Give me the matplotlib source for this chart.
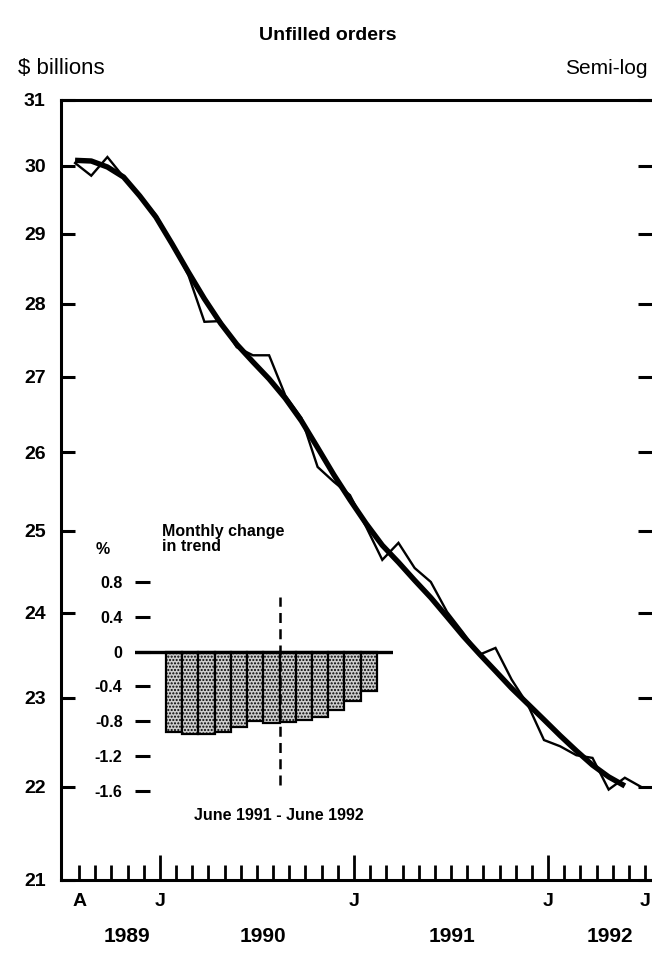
import numpy as np
import matplotlib.pyplot as plt
import matplotlib.transforms as mtransforms
from matplotlib.ticker import NullLocator

plt.rcParams['font.family'] = ['Liberation Sans', 'DejaVu Sans']
plt.rcParams['hatch.linewidth'] = 1.0

# -------------------------------------------------------
#   data (monthly, Aug 1989 - Jul 1992)
# -------------------------------------------------------
unfilled_orders = [30.04, 29.85, 30.13, 29.83, 29.55, 29.27, 28.86, 28.41, 27.75, 27.76,
                   27.40, 27.29, 27.29, 26.75, 26.45, 25.81, 25.62, 25.45, 25.05, 24.64,
                   24.85, 24.54, 24.37, 24.01, 23.76, 23.50, 23.58, 23.21, 22.92, 22.52,
                   22.45, 22.35, 22.32, 21.97, 22.10, 22.00]

# trend ends one month earlier (Jun 1992)
trend = [30.08, 30.07, 29.98, 29.83, 29.55, 29.24, 28.85, 28.45, 28.07, 27.73,
         27.44, 27.20, 26.97, 26.71, 26.41, 26.06, 25.71, 25.39, 25.09, 24.82,
         24.61, 24.39, 24.18, 23.95, 23.72, 23.51, 23.31, 23.11, 22.93, 22.75,
         22.57, 22.40, 22.24, 22.11, 22.01]

# monthly % change in trend, June 1991 - June 1992
trend_change = [-0.92, -0.95, -0.95, -0.92, -0.86, -0.80, -0.82, -0.81,
                -0.79, -0.75, -0.67, -0.57, -0.45]

y_ticks = [21, 22, 23, 24, 25, 26, 27, 28, 29, 30, 31]
month_labels = {0: 'A', 5: 'J', 17: 'J', 29: 'J', 35: 'J'}
january_idx = [5, 17, 29]
years = ['1989', '1990', '1991', '1992']
year_label_pos = [3.2, 11.6, 23.3, 33.1]

inset_ticks = [0.8, 0.4, 0, -0.4, -0.8, -1.2, -1.6]
inset_tick_labels = ['0.8', '0.4', '0', '-0.4', '-0.8', '-1.2', '-1.6']

# ............................................................

months = np.arange(len(unfilled_orders))
tick_shift = 0.25

W, H = 652, 958
fig = plt.figure(figsize=(W / 100, H / 100), dpi=100)

ax = fig.add_axes([61 / W, 1 - 880 / H, (652 - 61) / W, (880 - 100) / H])
ax.plot(months, unfilled_orders, color='black', lw=1.7, solid_joinstyle='miter')
ax.plot(months[:len(trend)], trend, color='black', lw=3.9, solid_capstyle='butt')

ax.set_yscale('log')
ax.set_ylim(21, 31)
ax.set_xlim(-0.87, 35.68)
ax.set_yticks(y_ticks)
ax.set_yticklabels([str(v) for v in y_ticks])
ax.yaxis.set_minor_locator(NullLocator())
ax.tick_params(axis='y', which='major', direction='in', length=10, width=2.2,
               left=True, right=True, labelsize=14, pad=11)

ax.set_xticks(months + tick_shift)
ax.set_xticklabels([month_labels.get(i, '') for i in months])
ax.xaxis.set_minor_locator(NullLocator())
ax.tick_params(axis='x', which='major', direction='in', length=11, width=2.0,
               labelsize=14, pad=9)
for i, t in enumerate(ax.xaxis.get_major_ticks()):
    if i in january_idx:
        t.tick1line.set_markersize(18)

for lbl in ax.get_yticklabels() + ax.get_xticklabels():
    lbl.set_fontweight('bold')

for side in ['left', 'top', 'bottom']:
    ax.spines[side].set_linewidth(2.2)
ax.spines['right'].set_visible(False)

trans = mtransforms.blended_transform_factory(ax.transData, ax.transAxes)
for yr, pos in zip(years, year_label_pos):
    ax.text(pos, -0.073, yr, transform=trans, ha='center', va='center',
            fontsize=15, fontweight='bold')

fig.text(328 / W, 1 - 35 / H, 'Unfilled orders', ha='center', va='center',
         fontsize=14, fontweight='bold')
fig.text(18 / W, 1 - 68 / H, '$ billions', ha='left', va='center', fontsize=16)
fig.text(648 / W, 1 - 68 / H, 'Semi-log', ha='right', va='center', fontsize=15)

# ............................................................
# INSET - monthly change in trend

ins = fig.add_axes([135 / W, 1 - 804 / H, 258 / W, 235 / H])
ins.patch.set_alpha(0)
bar_x = np.arange(len(trend_change))
ins.bar(bar_x, trend_change, width=1.0, color='#cdcdcd', edgecolor='black',
        linewidth=1.6, hatch='.....', zorder=2)
ins.axhline(0, color='black', lw=2.4, zorder=3)
ins.axvline(6.5, ymin=0.08, ymax=0.88, color='black', lw=1.8,
            ls=(0, (4, 2.5)), zorder=4)

ins.set_xlim(-2.41, 13.49)
ins.set_ylim(-1.75, 0.95)
ins.set_yticks(inset_ticks)
ins.set_yticklabels(inset_tick_labels)
ins.tick_params(axis='y', direction='in', length=11, width=2.2, pad=9, labelsize=11.5)
ins.set_xticks([])
for lbl in ins.get_yticklabels():
    lbl.set_fontweight('bold')
for s in ins.spines.values():
    s.set_visible(False)

ins.text(-4.4, 1.17, '%', ha='center', va='center', fontsize=11.5,
         fontweight='bold', clip_on=False)
ins.text(-0.75, 1.47, 'Monthly change\nin trend', ha='left', va='top',
         fontsize=11.5, fontweight='bold', linespacing=1.0, clip_on=False)
ins.text(6.45, -1.88, 'June 1991 - June 1992', ha='center', va='center',
         fontsize=11.5, fontweight='bold', clip_on=False)

fig.savefig('out.png', dpi=100)
